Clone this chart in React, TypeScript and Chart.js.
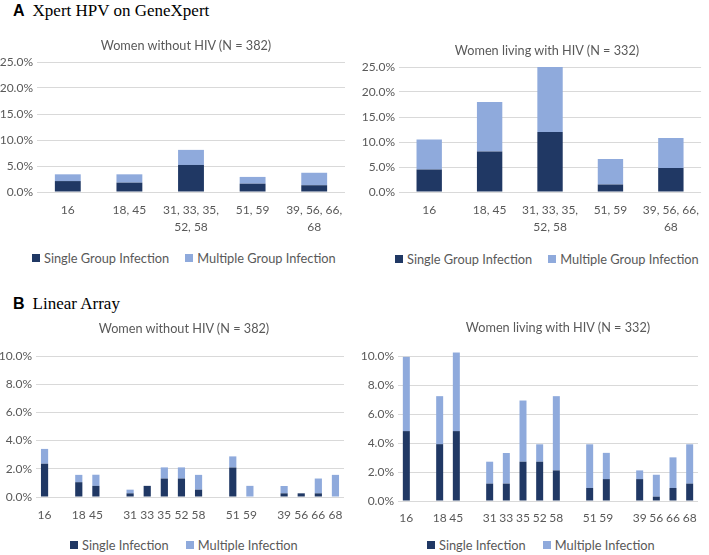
import React, { useEffect, useRef } from "react";
import { Chart, registerables } from "chart.js";
Chart.register(...registerables);

// ---- Data ----
const gxCategories: (string | string[])[] = ["16", "18, 45", ["31, 33, 35,", "52, 58"], "51, 59", ["39, 56, 66,", "68"]];
const gxNoHivSingle = [2.1, 1.8, 5.2, 1.6, 1.3];
const gxNoHivMultiple = [1.3, 1.6, 2.9, 1.3, 2.4];
const gxHivSingle = [4.5, 8.1, 12.0, 1.5, 4.8];
const gxHivMultiple = [6.0, 9.9, 13.0, 5.1, 6.0];

const laCategories = ["16", "", "18", "45", "", "31", "33", "35", "52", "58", "", "51", "59", "", "39", "56", "66", "68"];
const laNoHivSingle = [2.36, null, 1.05, 0.79, null, 0.26, 0.79, 1.31, 1.31, 0.52, null, 2.09, 0, null, 0.26, 0.26, 0.26, 0];
const laNoHivMultiple = [1.05, null, 0.52, 0.79, null, 0.26, 0, 0.79, 0.79, 1.05, null, 0.79, 0.79, null, 0.52, 0, 1.05, 1.57];
const laHivSingle = [4.82, null, 3.92, 4.82, null, 1.2, 1.2, 2.71, 2.71, 2.11, null, 0.9, 1.51, null, 1.51, 0.3, 0.9, 1.2];
const laHivMultiple = [5.12, null, 3.31, 5.42, null, 1.51, 2.11, 4.22, 1.2, 5.12, null, 3.01, 1.81, null, 0.6, 1.51, 2.11, 2.71];

const gxLegend = ["Single Group Infection", "Multiple Group Infection"];
const laLegend = ["Single Infection", "Multiple Infection"];
const gxTicksMax = 25;
const gxTicksStep = 5;
const laTicksMax = 10;
const laTicksStep = 2;

const FONT = "Lato, 'Noto Sans', sans-serif";
const TEXT = "#595959";
const DARK = "#203864";
const LIGHT = "#8FAADC";

type PanelProps = {
  left: number; top: number; width: number; height: number;
  labels: any[]; single: (number | null)[]; multiple: (number | null)[];
  legend: string[]; max: number; step: number;
  yWidth: number; padRight: number; padTop: number;
  xPad: number; xHeight: number;
};

function Panel(p: PanelProps) {
  const ref = useRef<HTMLCanvasElement | null>(null);
  useEffect(() => {
    if (!ref.current) return;
    const chart = new Chart(ref.current, {
      type: "bar",
      data: {
        labels: p.labels,
        datasets: [
          { label: p.legend[0], data: p.single, backgroundColor: DARK, borderWidth: 0, barPercentage: 0.42, categoryPercentage: 1, clip: false } as any,
          { label: p.legend[1], data: p.multiple, backgroundColor: LIGHT, borderWidth: 0, barPercentage: 0.42, categoryPercentage: 1, clip: false } as any,
        ],
      },
      options: {
        animation: false,
        responsive: true,
        maintainAspectRatio: false,
        layout: { padding: { left: 0, right: p.padRight, top: p.padTop, bottom: 0 } },
        plugins: {
          title: { display: false },
          legend: { display: false },
          tooltip: { enabled: false },
        },
        scales: {
          x: {
            stacked: true,
            grid: { display: false, drawTicks: false },
            border: { display: false },
            ticks: { color: TEXT, font: { family: FONT, size: 12, lineHeight: 1.4 }, autoSkip: false, maxRotation: 0, minRotation: 0, padding: p.xPad },
            afterFit: (s: any) => { s.height = p.xHeight; },
          },
          y: {
            stacked: true,
            min: 0,
            max: p.max,
            ticks: { stepSize: p.step, color: TEXT, font: { family: FONT, size: 12 }, padding: 4, callback: (v: any) => Number(v).toFixed(1) + "%" },
            grid: { color: "#D9D9D9", drawTicks: false },
            border: { display: false },
            afterFit: (s: any) => { s.width = p.yWidth; },
          },
        },
      } as any,
    });
    return () => chart.destroy();
  }, []);
  return (
    <div style={{ position: "absolute", left: p.left, top: p.top, width: p.width, height: p.height }}>
      <canvas ref={ref} />
    </div>
  );
}

function Heading({ letter, text, top }: { letter: string; text: string; top: number }) {
  return (
    <div style={{ position: "absolute", left: 13, top, whiteSpace: "nowrap", lineHeight: "20px" }}>
      <span style={{ fontFamily: "'Liberation Sans', Arial, sans-serif", fontWeight: "bold", fontSize: 16 }}>{letter}</span>
      <span style={{ fontFamily: "'Liberation Serif', 'Times New Roman', serif", fontSize: 17, marginLeft: 8 }}>{text}</span>
    </div>
  );
}

function ChartTitle({ text, cx, cy }: { text: string; cx: number; cy: number }) {
  return (
    <div style={{ position: "absolute", left: cx - 150, top: cy - 9, width: 300, height: 18, lineHeight: "18px", textAlign: "center", fontFamily: FONT, fontSize: 12.7, color: TEXT, whiteSpace: "nowrap" }}>
      {text}
    </div>
  );
}

function Legend({ items, x, cy, gap }: { items: string[]; x: number; cy: number; gap: number }) {
  const colors = [DARK, LIGHT];
  return (
    <div style={{ position: "absolute", left: x, top: cy - 9, height: 18, display: "flex", alignItems: "center", whiteSpace: "nowrap", fontFamily: FONT, fontSize: 12.8, color: TEXT, lineHeight: "18px" }}>
      {items.map((t, i) => (
        <span key={i} style={{ display: "flex", alignItems: "center", marginRight: i === 0 ? gap : 0 }}>
          <span style={{ display: "inline-block", width: 8, height: 8, background: colors[i], marginRight: 4 }} />
          <span>{t}</span>
        </span>
      ))}
    </div>
  );
}

export default function App() {
  return (
    <div style={{ position: "absolute", left: 0, top: 0, width: 709, height: 555, background: "#fff", overflow: "hidden" }}>
      <Heading letter="A" text="Xpert HPV on GeneXpert" top={1} />
      <Heading letter="B" text="Linear Array" top={294} />
      <Panel left={0} top={30} width={355} height={207} labels={gxCategories} single={gxNoHivSingle} multiple={gxNoHivMultiple}
        legend={gxLegend} max={gxTicksMax} step={gxTicksStep}
        yWidth={37} padRight={10} padTop={32} xPad={10} xHeight={45} />
      <Panel left={355} top={35} width={354} height={202} labels={gxCategories} single={gxHivSingle} multiple={gxHivMultiple}
        legend={gxLegend} max={gxTicksMax} step={gxTicksStep}
        yWidth={44} padRight={1} padTop={32} xPad={10} xHeight={45} />
      <Panel left={0} top={312} width={355} height={210} labels={laCategories} single={laNoHivSingle} multiple={laNoHivMultiple}
        legend={laLegend} max={laTicksMax} step={laTicksStep}
        yWidth={36} padRight={11} padTop={44} xPad={10} xHeight={25} />
      <Panel left={355} top={312} width={354} height={214} labels={laCategories} single={laHivSingle} multiple={laHivMultiple}
        legend={laLegend} max={laTicksMax} step={laTicksStep}
        yWidth={43} padRight={11} padTop={44} xPad={9} xHeight={25} />
      <ChartTitle text="Women without HIV (N = 382)" cx={186} cy={45} />
      <ChartTitle text="Women living with HIV (N = 332)" cx={547} cy={50} />
      <ChartTitle text="Women without HIV (N = 382)" cx={184} cy={328} />
      <ChartTitle text="Women living with HIV (N = 332)" cx={558} cy={327} />
      <Legend items={gxLegend} x={32} cy={258} gap={16} />
      <Legend items={gxLegend} x={395} cy={259} gap={16} />
      <Legend items={laLegend} x={70} cy={545} gap={17} />
      <Legend items={laLegend} x={427} cy={545} gap={17} />
    </div>
  );
}
